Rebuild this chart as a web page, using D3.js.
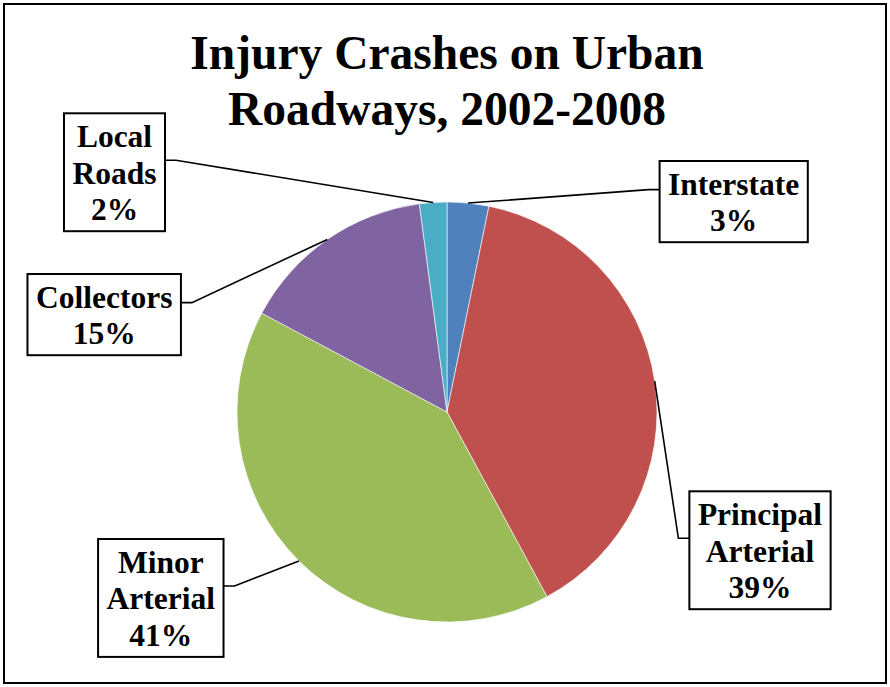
<!DOCTYPE html>
<html>
<head>
<meta charset="utf-8">
<script src="https://cdn.jsdelivr.net/npm/d3@7"></script>
<style>
  body { margin: 0; background: #fff; }
</style>
</head>
<body>
<div id="chart"></div>
<script>
// data (share of injury crashes, %)
var categories = ["Interstate", "Principal Arterial", "Minor Arterial", "Collectors", "Local Roads"];
var shares = [3.2, 38.9, 40.7, 15.1, 2.1];
var titleLines = ["Injury Crashes on Urban", "Roadways, 2002-2008"];

// styling / layout
var colors = ["#4F81BD", "#C0504D", "#9BBB59", "#8064A2", "#4BACC6"];
var fontFamily = "'Liberation Serif', 'Times New Roman', Times, 'DejaVu Serif', serif";
var width = 890, height = 687;
var cx = 447, cy = 412, radius = 210;
var lineGap = 36.7;

// where each data label box sits (centre x, top y) and which side the leader leaves from
var labelLayout = [
  { cx: 733.7, top: 161, side: "left" },
  { cx: 760, top: 491.3, side: "left" },
  { cx: 160.8, top: 539, side: "right" },
  { cx: 104.2, top: 274, side: "right" },
  { cx: 114.5, top: 113.3, side: "right" }
];

var svg = d3.select("#chart").append("svg")
  .attr("width", width)
  .attr("height", height)
  .attr("font-family", fontFamily)
  .attr("font-weight", "bold");

svg.append("rect")
  .attr("x", 4).attr("y", 4)
  .attr("width", width - 8).attr("height", height - 8)
  .attr("fill", "#fff")
  .attr("stroke", "#000")
  .attr("stroke-width", 2);

// title
svg.append("g").selectAll("text")
  .data(titleLines)
  .enter().append("text")
  .attr("x", cx)
  .attr("y", function (d, i) { return 69 + i * 56; })
  .attr("text-anchor", "middle")
  .attr("font-family", fontFamily)
  .attr("font-weight", "bold")
  .attr("font-size", 47.5)
  .text(function (d) { return d; });

var pie = d3.pie().sort(null).value(function (d) { return d; });
var arc = d3.arc().innerRadius(0).outerRadius(radius);
var arcs = pie(shares);

var g = svg.append("g")
  .attr("transform", "translate(" + cx + "," + cy + ")");

g.selectAll("path")
  .data(arcs)
  .enter().append("path")
  .attr("d", arc)
  .attr("fill", function (d, i) { return colors[i]; })
  .attr("stroke", "#fff")
  .attr("stroke-width", 0.6);

// data labels with boxes and leader lines
var labels = svg.append("g");

arcs.forEach(function (a, i) {
  var lay = labelLayout[i];
  var lines = categories[i].split(" ").concat([Math.round(shares[i]) + "%"]);
  var box = labels.append("g");

  var rect = box.append("rect")
    .attr("fill", "#fff")
    .attr("stroke", "#000")
    .attr("stroke-width", 2);

  var maxW = 0;
  lines.forEach(function (t, j) {
    var txt = box.append("text")
      .attr("x", lay.cx)
      .attr("y", lay.top + 33.5 + j * lineGap)
      .attr("text-anchor", "middle")
      .attr("font-family", fontFamily)
      .attr("font-weight", "bold")
      .attr("font-size", 31.5)
      .text(t);
    maxW = Math.max(maxW, txt.node().getComputedTextLength());
  });

  var bw = maxW + 17;
  var bh = 44.5 + (lines.length - 1) * lineGap;
  var left = lay.cx - bw / 2;
  rect.attr("x", left).attr("y", lay.top).attr("width", bw).attr("height", bh);

  // leader: from box side, short flat stub, then to the slice mid-angle on the rim
  var ay = lay.top + bh / 2 - 12;
  var ax = lay.side == "left" ? left : left + bw;
  var stub = lay.side == "left" ? ax - 11 : ax + 11;
  var mid = (a.startAngle + a.endAngle) / 2;
  var ex = cx + radius * Math.sin(mid);
  var ey = cy - radius * Math.cos(mid);

  labels.insert("path", ":first-child")
    .attr("d", d3.line()([[ax, ay], [stub, ay], [ex, ey]]))
    .attr("fill", "none")
    .attr("stroke", "#000")
    .attr("stroke-width", 1.6);
});
</script>
</body>
</html>
